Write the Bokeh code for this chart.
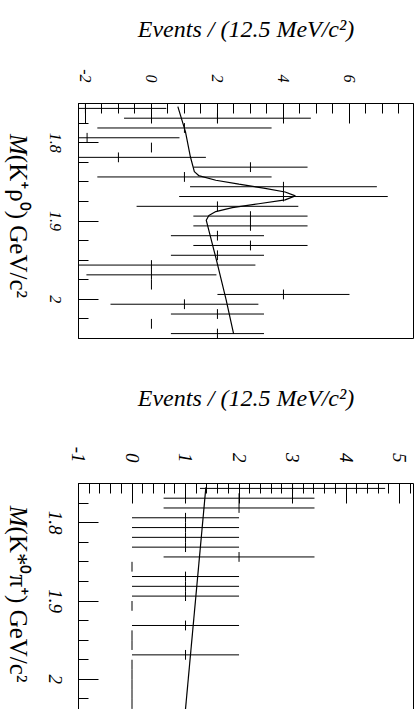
import math
import numpy as np
from bokeh.plotting import figure
from bokeh.layouts import column, row
from bokeh.models import (ColumnDataSource, FixedTicker, CustomJSTickFormatter,
                          LinearAxis, Range1d)
from bokeh.core.properties import value
from bokeh.embed import file_html
from bokeh.resources import INLINE

# Histogram binning: 24 bins of 12.5 MeV/c^2 from 1.75 GeV/c^2
MASS_MIN = 1.75
BIN_WIDTH = 0.0125
N_BINS = 24

# Mass axis ticks (GeV/c^2)
mass_ticks = [1.8, 1.9, 2.0]
mass_tick_labels = ["1.8", "1.9", "2"]
mass_minor = [1.75, 1.775, 1.8, 1.825, 1.85, 1.875, 1.9, 1.925, 1.95, 1.975, 2.0, 2.025, 2.05]

# K+ rho0 spectrum: yield per bin and its error
krho_events = [-2.0, 2.0, 1.0, -1.95, 0.0, -1.0, 3.0, 1.0, 4.0, 4.0, 2.0, 3.0,
               3.0, 2.0, 3.0, 2.0, 0.0, 0.0, 0.0, 4.0, 1.0, 2.0, 0.0, 2.0]
krho_errors = [2.45, 2.83, 2.64, 2.8, 0.0, 2.65, 1.73, 2.64, 2.83, 3.16, 2.45, 1.73,
               1.73, 1.41, 1.73, 1.41, 3.15, 1.97, 0.0, 2.0, 2.24, 1.41, 0.0, 1.41]
# fitted curve (signal peak on a linear background)
krho_fit_mass = [1.754, 1.786, 1.818, 1.837, 1.842, 1.848, 1.853, 1.858, 1.863, 1.868,
                 1.873, 1.878, 1.883, 1.888, 1.893, 1.899, 1.950, 2.000, 2.044]
krho_fit_events = [0.80, 1.03, 1.18, 1.30, 1.43, 1.95, 2.65, 3.40, 4.05, 4.36,
                   4.05, 3.25, 2.45, 1.95, 1.74, 1.66, 1.97, 2.26, 2.49]
krho_ticks = [-2, 0, 2, 4, 6]
krho_minor = [-2.0, -1.5, -1.0, -0.5, 0.0, 0.5, 1.0, 1.5, 2.0, 2.5, 3.0, 3.5,
              4.0, 4.5, 5.0, 5.5, 6.0, 6.5, 7.0, 7.5]

# K*0 pi+ spectrum (bin 13 has no entry drawn)
nan = float("nan")
kstpi_events = [3.0, 2.0, 2.0, 1.0, 1.0, 1.0, 1.0, 2.0, 0.0, 1.0, 1.0, 1.0,
                0.0, nan, 1.0, 0.0, 0.0, 1.0, 0.0, 0.0, 0.0, 0.0, 0.0, 0.0]
kstpi_errors = [1.73, 1.41, 1.41, 1.0, 1.0, 1.0, 1.0, 1.41, 0.0, 1.0, 1.0, 1.0,
                0.0, nan, 1.0, 0.0, 0.0, 1.0, 0.0, 0.0, 0.0, 0.0, 0.0, 0.0]
kstpi_fit_mass = [1.755, 2.045]
kstpi_fit_events = [1.38, 0.99]
kstpi_ticks = [-1, 0, 1, 2, 3, 4, 5]
kstpi_minor = [round(-1.0 + 0.2 * i, 1) for i in range(32)]

SERIF = "Liberation Serif"
SIDE_W = 66      # strip left of the plot holding the mass labels
FRAME_LEFT = 12  # border between that strip and the frame


def build_panel(events, errors, fit_mass, fit_events, x_lo, x_hi, ticks, minor,
                events_title, mass_symbol, mass_rest, title_join, height, top,
                bottom, mass_hi, tick_size, tick_standoff, title_standoff, closed):
    p = figure(width=417 - SIDE_W, height=height, output_backend="svg",
               toolbar_location=None,
               x_range=Range1d(x_lo, x_hi), y_range=Range1d(mass_hi, MASS_MIN),
               x_axis_location="above", y_axis_location="left",
               min_border_left=FRAME_LEFT, min_border_right=4, min_border_top=top,
               min_border_bottom=bottom)
    p.grid.visible = False
    p.background_fill_color = "white"
    p.border_fill_color = "white"
    if closed:
        p.outline_line_color = "black"
        p.outline_line_alpha = 1.0
        p.outline_line_width = 1
    else:
        p.outline_line_color = None

    ev = np.asarray(events, dtype=float)
    er = np.asarray(errors, dtype=float)
    lo_edges = MASS_MIN + BIN_WIDTH * np.arange(N_BINS)
    src = ColumnDataSource(dict(ev=ev, lo=ev - er, hi=ev + er,
                                m=lo_edges + BIN_WIDTH / 2,
                                m0=lo_edges, m1=lo_edges + BIN_WIDTH))
    # error bars along the yield axis and bin-width bars along the mass axis
    p.segment(x0="lo", y0="m", x1="hi", y1="m", source=src,
              line_color="black", line_width=1)
    p.segment(x0="ev", y0="m0", x1="ev", y1="m1", source=src,
              line_color="black", line_width=1)
    p.line(fit_events, fit_mass, line_color="black", line_width=1.2)

    xa = p.xaxis[0]
    xa.ticker = FixedTicker(ticks=ticks, minor_ticks=minor)
    xa.formatter = CustomJSTickFormatter(code="return String(Math.round(tick));")
    xa.major_label_orientation = -math.pi / 2
    xa.major_label_standoff = tick_standoff
    xa.major_label_text_font = SERIF
    xa.major_label_text_font_style = "italic"
    xa.major_label_text_font_size = f"{tick_size}px"
    xa.major_label_text_color = "black"
    xa.major_tick_in = 20
    xa.major_tick_out = 0
    xa.minor_tick_in = 10
    xa.minor_tick_out = 0
    xa.major_tick_line_color = "black"
    xa.minor_tick_line_color = "black"
    xa.axis_line_color = "black"
    xa.axis_label = events_title
    xa.axis_label_text_font = SERIF
    xa.axis_label_text_font_style = "italic"
    xa.axis_label_text_font_size = "24px"
    xa.axis_label_text_color = "black"
    xa.axis_label_standoff = title_standoff

    ya = p.yaxis[0]
    ya.ticker = FixedTicker(ticks=mass_ticks, minor_ticks=mass_minor)
    ya.formatter = CustomJSTickFormatter(code="return '';")
    ya.major_label_standoff = 0
    ya.major_tick_in = 20
    ya.major_tick_out = 0
    ya.minor_tick_in = 10
    ya.minor_tick_out = 0
    ya.major_tick_line_color = "black"
    ya.minor_tick_line_color = "black"
    ya.axis_line_color = "black"

    if not closed:
        ra = LinearAxis(ticker=FixedTicker(ticks=[]),
                        formatter=CustomJSTickFormatter(code="return '';"),
                        major_label_standoff=0, major_tick_in=0, major_tick_out=0,
                        minor_tick_in=0, minor_tick_out=0, axis_line_color="black")
        p.add_layout(ra, "right")

    # strip to the left sharing the mass scale: tick labels and axis title,
    # turned to read downwards
    s = figure(width=SIDE_W, height=height, output_backend="svg",
               toolbar_location=None, x_axis_location=None, y_axis_location=None,
               x_range=Range1d(0, SIDE_W), y_range=p.y_range,
               min_border_left=0, min_border_right=0, min_border_top=top,
               min_border_bottom=bottom)
    s.grid.visible = False
    s.outline_line_color = None
    s.background_fill_color = "white"
    s.border_fill_color = "white"
    shown = [(t, lab) for t, lab in zip(mass_ticks, mass_tick_labels) if t <= mass_hi]
    s.text(x=[55] * len(shown), y=[t for t, _ in shown], text=[lab for _, lab in shown],
           angle=-math.pi / 2, text_align="center", text_baseline="middle",
           text_font=value(SERIF), text_font_style="italic",
           text_font_size=value(f"{tick_size}px"), text_color="black")
    # axis title: italic symbol ending where the upright remainder begins
    s.text(x=[18], y=[title_join], text=[mass_symbol], angle=-math.pi / 2,
           text_align="right", text_baseline="alphabetic", text_font_style="italic",
           text_font=value(SERIF), text_font_size=value("25px"), text_color="black")
    s.text(x=[18], y=[title_join], text=[mass_rest], angle=-math.pi / 2,
           text_align="left", text_baseline="alphabetic",
           text_font=value(SERIF), text_font_size=value("25px"), text_color="black")
    return row(s, p)


top_panel = build_panel(krho_events, krho_errors, krho_fit_mass, krho_fit_events,
                        -2.21, 7.94, krho_ticks, krho_minor,
                        "Events / (12.5 MeV/c²)", "M", "(K⁺ρ⁰) GeV/c²", 1.8155,
                        height=360, top=103, bottom=22, mass_hi=2.05,
                        tick_size=16, tick_standoff=21, title_standoff=24, closed=True)

bottom_panel = build_panel(kstpi_events, kstpi_errors, kstpi_fit_mass, kstpi_fit_events,
                           -1.0, 5.26, kstpi_ticks, kstpi_minor,
                           "Events / (12.5 MeV/c²)", "M", "(K*⁰π⁺) GeV/c²", 1.805,
                           height=349, top=123, bottom=0, mass_hi=2.0385,
                           tick_size=19, tick_standoff=21, title_standoff=33, closed=False)

layout = column(top_panel, bottom_panel)
open("out.html", "w").write(file_html(layout, INLINE))
